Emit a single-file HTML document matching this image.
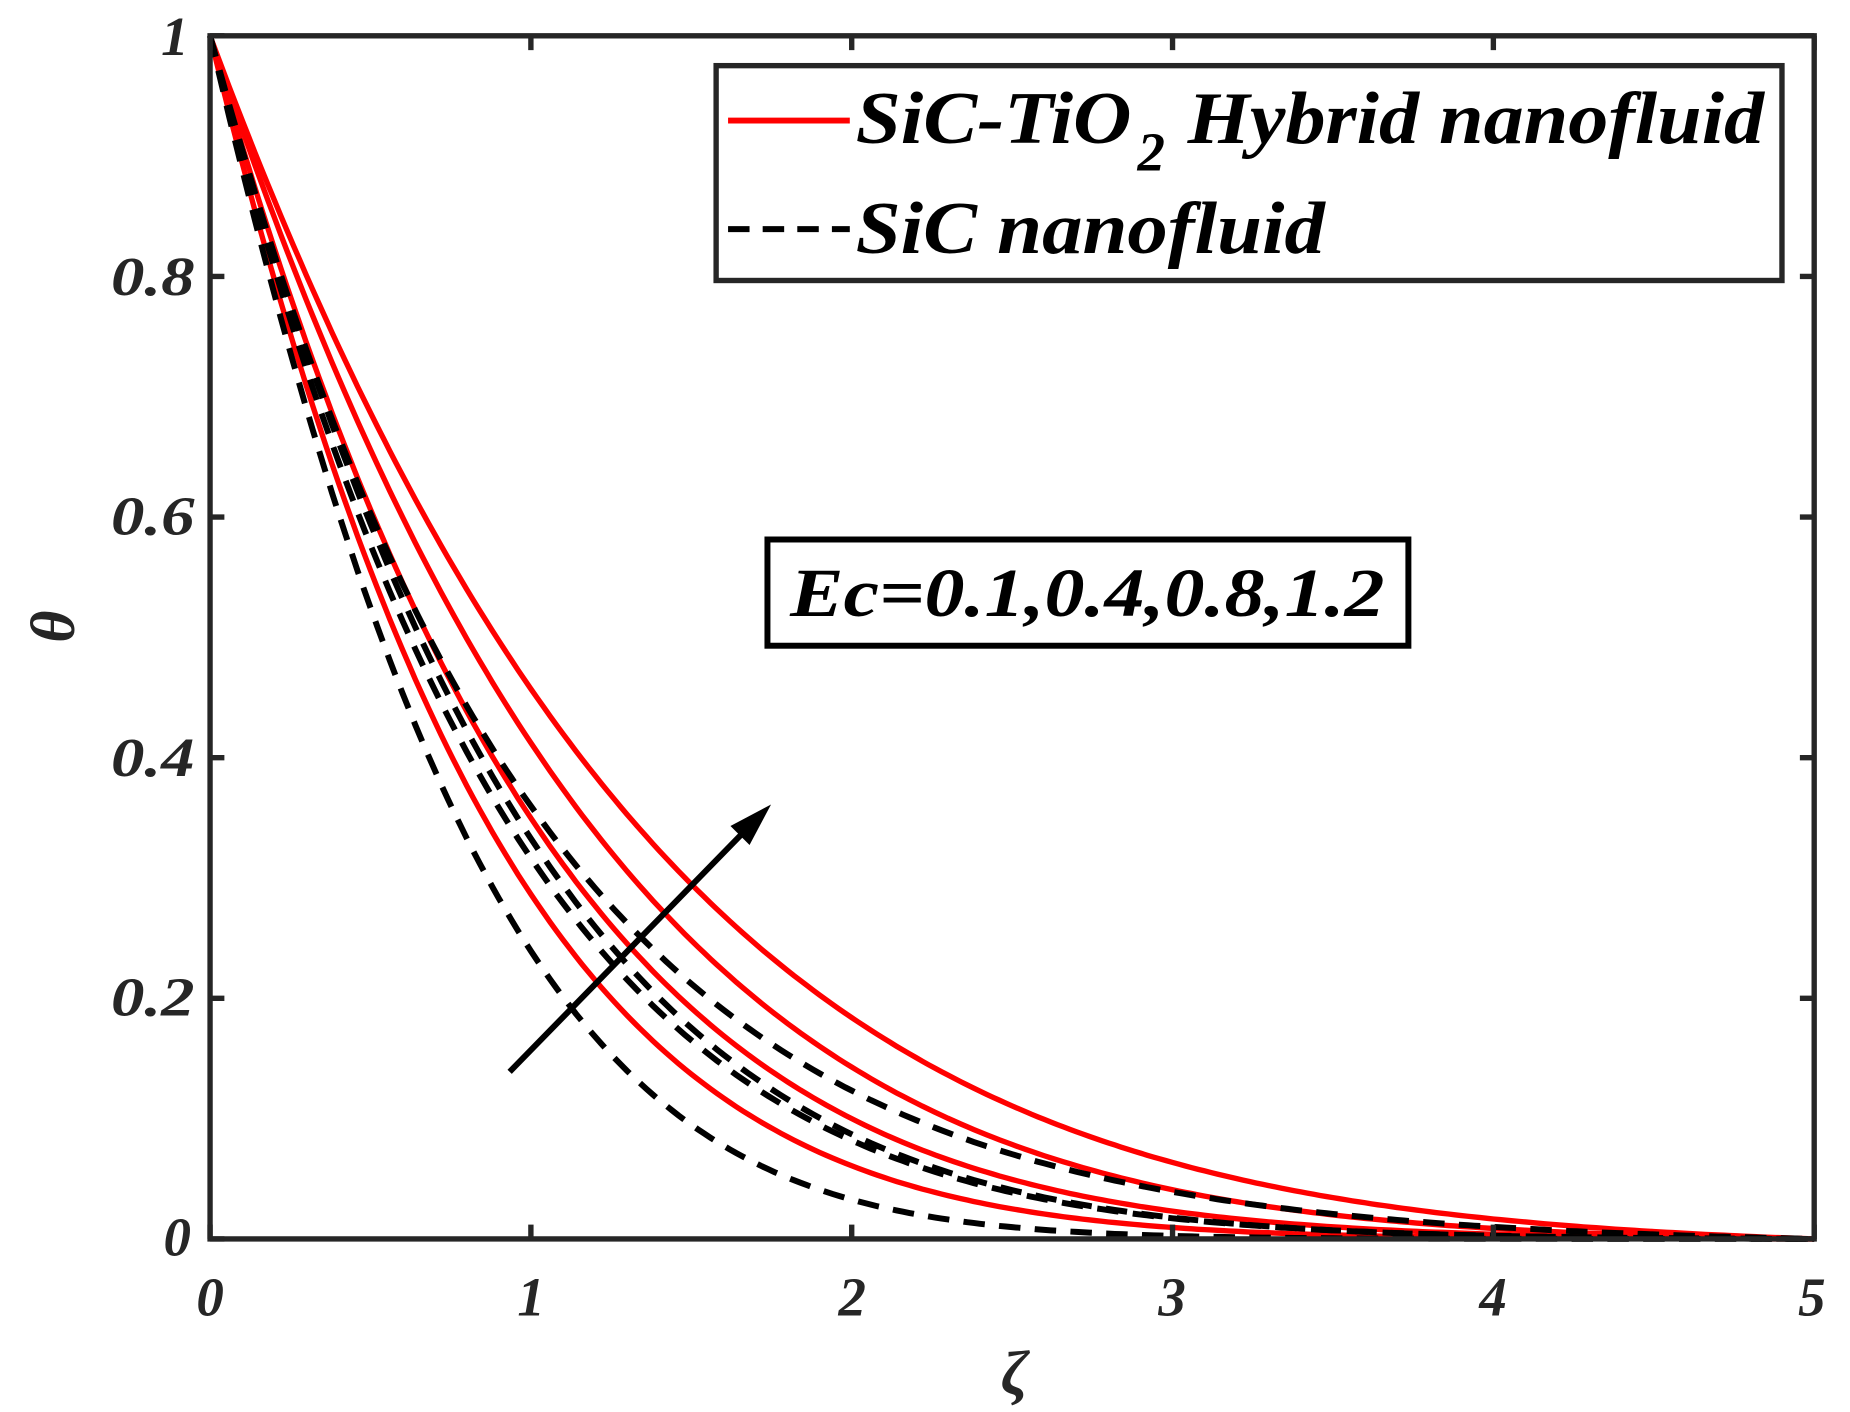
<!DOCTYPE html>
<html><head><meta charset="utf-8"><style>
html,body{margin:0;padding:0;background:#fff;}
svg{display:block;}
text{font-family:"Liberation Serif",serif;font-weight:bold;font-style:italic;fill:#262626;}
</style></head><body>
<svg id="s" width="1850" height="1412" viewBox="0 0 1550 1183" preserveAspectRatio="none" xmlns="http://www.w3.org/2000/svg">
<rect x="0" y="0" width="1550" height="1183" fill="#fff"/>
<g id="curves"></g>
<rect x="176" y="30" width="1344" height="1008" fill="none" stroke="#262626" stroke-width="4.5"/>
<g stroke="#262626" stroke-width="4.5" id="ticks"></g>
<g font-size="46" text-anchor="end">
<text x="160" y="1052">0</text>
<text x="163" y="851" textLength="70" lengthAdjust="spacingAndGlyphs">0.2</text>
<text x="163" y="650" textLength="70" lengthAdjust="spacingAndGlyphs">0.4</text>
<text x="163" y="448" textLength="70" lengthAdjust="spacingAndGlyphs">0.6</text>
<text x="163" y="247" textLength="70" lengthAdjust="spacingAndGlyphs">0.8</text>
<text x="158" y="46">1</text>
</g>
<g font-size="46" text-anchor="middle">
<text x="176" y="1102">0</text>
<text x="445" y="1102">1</text>
<text x="714" y="1102">2</text>
<text x="982" y="1102">3</text>
<text x="1251" y="1102">4</text>
<text x="1518" y="1102">5</text>
</g>
<text x="850" y="1168" font-size="52" text-anchor="middle">ζ</text>
<text x="0" y="0" font-size="52" text-anchor="middle" transform="translate(62,525) rotate(-90)">θ</text>
<rect x="600" y="55" width="893" height="180" fill="#fff" stroke="#262626" stroke-width="4.5"/>
<line x1="610" y1="101" x2="712" y2="101" stroke="#ff0000" stroke-width="5"/>
<line x1="610" y1="192" x2="712" y2="192" stroke="#000" stroke-width="5" stroke-dasharray="18 11"/>
<text x="717" y="120" font-size="62" style="fill:#000" textLength="231" lengthAdjust="spacingAndGlyphs">SiC-TiO</text>
<text x="953" y="143" font-size="46" style="fill:#000">2</text>
<text x="995" y="120" font-size="62" style="fill:#000" textLength="483" lengthAdjust="spacingAndGlyphs">Hybrid nanofluid</text>
<text x="717" y="212" font-size="62" style="fill:#000" textLength="393" lengthAdjust="spacingAndGlyphs">SiC nanofluid</text>
<rect x="643" y="452" width="537" height="89" fill="#fff" stroke="#000" stroke-width="5"/>
<text x="662" y="516" font-size="58" style="fill:#000" textLength="498" lengthAdjust="spacingAndGlyphs">Ec=0.1,0.4,0.8,1.2</text>
<line x1="427" y1="898" x2="632" y2="688" stroke="#000" stroke-width="5"/>
<polygon points="646,674 612,692 628,708" fill="#000"/>
</svg>
<script>
var X=function(z){return 176+z*268.8;}, Y=function(t){return 1038-t*1008;};
function path(a,b){
  var e5=Math.exp(-(a*5+b*25)),d="";
  for(var i=0;i<=250;i++){
    var z=i*5/250;
    var t=Math.exp(-(a*z+b*z*z))-e5*z/5;
    d+=(i?"L":"M")+X(z).toFixed(1)+","+Y(t).toFixed(1);
  }
  return d;
}
var reds=[[0.72,0.06],[0.80,0.085],[0.95,0.10],[1.10,0.15]];
var blacks=[[1.0,0.02],[0.98,0.12],[1.05,0.10],[1.15,0.28]];
var h="";
reds.forEach(function(v){h+='<path d="'+path(v[0],v[1])+'" fill="none" stroke="#ff0000" stroke-width="4.5"/>';});
blacks.forEach(function(v){h+='<path d="'+path(v[0],v[1])+'" fill="none" stroke="#000" stroke-width="5" stroke-dasharray="18 12"/>';});
document.getElementById("curves").innerHTML=h;
var t="";
[0,1,2,3,4,5].forEach(function(z){var x=X(z);t+='<line x1="'+x+'" y1="1038" x2="'+x+'" y2="1026"/><line x1="'+x+'" y1="30" x2="'+x+'" y2="42"/>';});
[0,0.2,0.4,0.6,0.8,1].forEach(function(v){var y=Y(v);t+='<line x1="176" y1="'+y+'" x2="188" y2="'+y+'"/><line x1="1520" y1="'+y+'" x2="1508" y2="'+y+'"/>';});
document.getElementById("ticks").innerHTML=t;
</script>
</body></html>
